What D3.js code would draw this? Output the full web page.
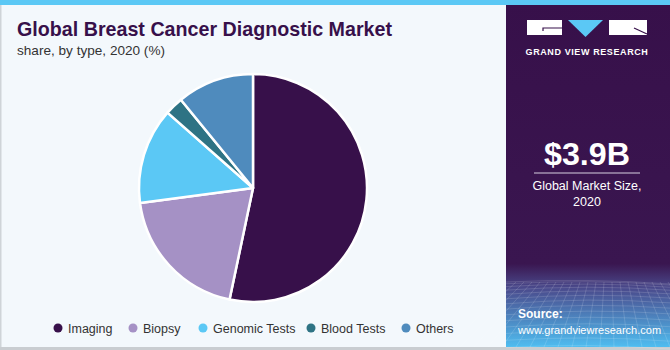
<!DOCTYPE html>
<html>
<head>
<meta charset="utf-8">
<script src="https://cdn.jsdelivr.net/npm/d3@7"></script>
<style>
  html, body { margin: 0; padding: 0; background: #ffffff; }
  svg { display: block; }
  text { font-family: "Liberation Sans", Arial, sans-serif; }
</style>
</head>
<body>
<svg id="chart" width="670" height="350"></svg>
<script>
// Market share by diagnostic type, 2020 (%)
const categories = ["Imaging", "Biopsy", "Genomic Tests", "Blood Tests", "Others"];
const shares = [53.3, 19.6, 13.6, 2.6, 10.9];
const colors = ["#37104a", "#a591c5", "#5bc8f5", "#2e7384", "#4f8bbd"];

const titleText = "Global Breast Cancer Diagnostic Market";
const subtitleText = "share, by type, 2020 (%)";
const marketValue = "$3.9B";
const marketLabel = ["Global Market Size,", "2020"];

const W = 670, H = 350;
const svg = d3.select("#chart");

// ---- backgrounds ----
svg.append("rect").attr("x", 0).attr("y", 0).attr("width", W).attr("height", H).attr("fill", "#f3f8fc");
svg.append("rect").attr("x", 0).attr("y", 0).attr("width", 1.5).attr("height", H).attr("fill", "#cfd4d8");
svg.append("rect").attr("x", 0).attr("y", H - 3).attr("width", W).attr("height", 3).attr("fill", "#c9cdd1");

// right side panel
const panelX = 506;
const defs = svg.append("defs");
const grad = defs.append("linearGradient").attr("id", "panelGrad")
  .attr("x1", 0).attr("y1", 0).attr("x2", 0).attr("y2", 1);
grad.append("stop").attr("offset", "0%").attr("stop-color", "#37104a");
grad.append("stop").attr("offset", "76%").attr("stop-color", "#3a1650");
grad.append("stop").attr("offset", "83%").attr("stop-color", "#4a4a8c");
grad.append("stop").attr("offset", "100%").attr("stop-color", "#4fbdf0");
svg.append("rect").attr("x", panelX).attr("y", 0).attr("width", W - panelX).attr("height", H - 3)
  .attr("fill", "url(#panelGrad)");

// faint perspective mesh in the lower part of the panel
const mesh = svg.append("g").attr("stroke", "#ffffff").attr("stroke-opacity", 0.18).attr("stroke-width", 0.8).attr("fill", "none");
const meshTop = 282, meshBottom = H - 3;
d3.range(0, 14).forEach(i => {
  const t = i / 13;
  const y = meshTop + Math.pow(t, 1.6) * (meshBottom - meshTop);
  mesh.append("path").attr("d", `M${panelX},${y + 3 * Math.sin(t * 3)} Q${(panelX + W) / 2},${y - 4} ${W},${y + 2}`);
});
d3.range(0, 22).forEach(i => {
  const xb = panelX - 60 + i * 14;
  const xt = panelX + 10 + i * 8;
  mesh.append("path").attr("d", `M${xt},${meshTop} L${xb},${meshBottom}`);
});

// top accent bar
svg.append("rect").attr("x", 0).attr("y", 0).attr("width", W).attr("height", 5).attr("fill", "#5bc8f5");

// ---- logo ----
const logo = svg.append("g");
logo.append("rect").attr("x", 527).attr("y", 20).attr("width", 35).attr("height", 15).attr("fill", "#ffffff");
logo.append("path").attr("d", "M543,31 L543,28 L562,28").attr("stroke", "#37104a").attr("stroke-width", 1.2).attr("fill", "none");
logo.append("path").attr("d", "M568,20 L603,20 L585.5,37 Z").attr("fill", "#5bc8f5");
logo.append("rect").attr("x", 609).attr("y", 20).attr("width", 38).attr("height", 15).attr("fill", "#ffffff");
logo.append("path").attr("d", "M634,28 L647,34").attr("stroke", "#37104a").attr("stroke-width", 1.2);
logo.append("text").attr("x", 587).attr("y", 55).attr("text-anchor", "middle")
  .attr("fill", "#ffffff").attr("font-size", 9).attr("font-weight", "bold").attr("letter-spacing", 0.6)
  .text("GRAND VIEW RESEARCH");

// ---- market size block ----
svg.append("text").attr("x", 587).attr("y", 165).attr("text-anchor", "middle")
  .attr("fill", "#ffffff").attr("font-size", 31).attr("font-weight", "bold")
  .attr("textLength", 86).attr("lengthAdjust", "spacingAndGlyphs").text(marketValue);
svg.append("line").attr("x1", 534).attr("x2", 640).attr("y1", 173).attr("y2", 173)
  .attr("stroke", "#d8cfe0").attr("stroke-width", 1);
marketLabel.forEach((s, i) => {
  svg.append("text").attr("x", 587).attr("y", 190 + i * 16).attr("text-anchor", "middle")
    .attr("fill", "#ffffff").attr("font-size", 12.5).text(s);
});

// ---- source ----
svg.append("text").attr("x", 518).attr("y", 318).attr("fill", "#ffffff")
  .attr("font-size", 12).attr("font-weight", "bold").text("Source:");
svg.append("text").attr("x", 518).attr("y", 334).attr("fill", "#ffffff")
  .attr("font-size", 11).text("www.grandviewresearch.com");

// ---- titles ----
svg.append("text").attr("x", 17).attr("y", 36).attr("fill", "#37104a")
  .attr("font-size", 21).attr("font-weight", "bold")
  .attr("textLength", 375).attr("lengthAdjust", "spacingAndGlyphs").text(titleText);
svg.append("text").attr("x", 17).attr("y", 55).attr("fill", "#333333")
  .attr("font-size", 13.5).attr("textLength", 148).attr("lengthAdjust", "spacingAndGlyphs").text(subtitleText);

// ---- pie ----
const cx = 253, cy = 188, R = 114;
const pie = d3.pie().sort(null).value(d => d)(shares);
const arc = d3.arc().innerRadius(0).outerRadius(R);
svg.append("g").attr("transform", `translate(${cx},${cy})`)
  .selectAll("path").data(pie).join("path")
  .attr("d", arc)
  .attr("fill", (d, i) => colors[i])
  .attr("stroke", "#ffffff").attr("stroke-width", 2.5).attr("stroke-linejoin", "round");

// ---- legend ----
const legendX = [58, 133, 203, 311, 406];
const legend = svg.append("g");
categories.forEach((c, i) => {
  const g = legend.append("g").attr("transform", `translate(${legendX[i]},328)`);
  g.append("circle").attr("r", 4.5).attr("fill", colors[i]);
  g.append("text").attr("x", 10).attr("y", 4.5).attr("fill", "#333333").attr("font-size", 12.5).text(c);
});
</script>
</body>
</html>
